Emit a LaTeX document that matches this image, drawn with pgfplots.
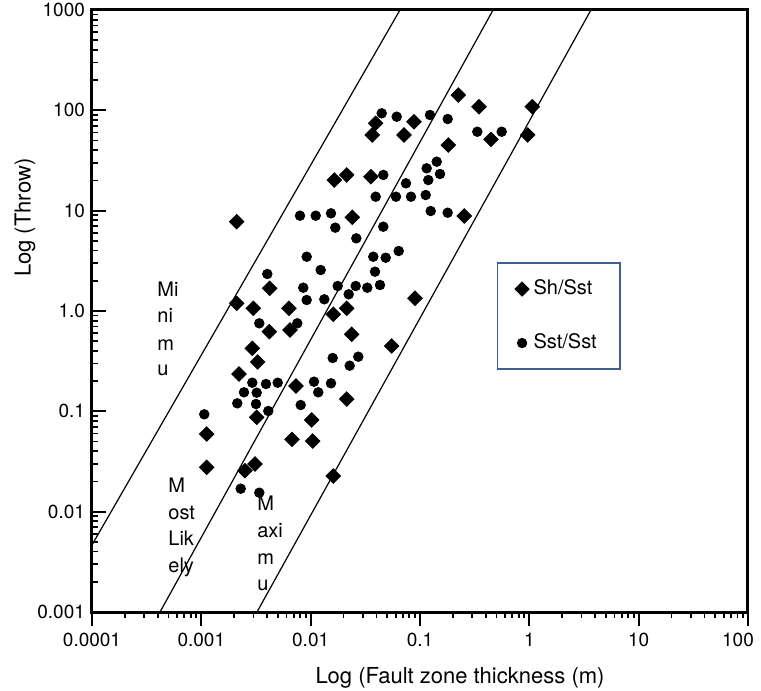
\documentclass[border=0pt]{standalone}
\usepackage{fontspec}
\setmainfont{TeX Gyre Heros}
\usepackage{pgfplots}
\pgfplotsset{compat=1.18}
\definecolor{legblue}{RGB}{60,95,140}
\begin{document}
\begin{tikzpicture}
\useasboundingbox (-46pt,-39.5pt) rectangle (334.5pt,306pt);
\begin{axis}[
  scale only axis, width=328pt, height=301pt,
  xmode=log, ymode=log,
  xmin=1e-4, xmax=100, ymin=1e-3, ymax=1000,
  xtick={1e-4,1e-3,1e-2,1e-1,1,10,100},
  xticklabels={0.0001,0.001,0.01,0.1,1,10,{100\hspace*{10pt}}},
  ytick={1e-3,1e-2,1e-1,1,10,100,1000},
  yticklabels={0.001,0.01,{0.1\hspace{5pt}},1.0,{10\hspace{9pt}},{100\hspace{2.5pt}},1000},
  minor xtick={}, minor ytick={},
  tick pos=left,
  xtick align=outside, ytick align=inside,
  major tick length=7pt,
  tick style={black, line width=0.9pt},
  axis line style={line width=1.5pt},
  /pgf/number format/assume math mode=true,
  ticklabel style={font=\fontsize{9.5}{11}\selectfont},
  xlabel={Log (Fault zone thickness (m)},
  ylabel={Log (Throw)},
  label style={font=\fontsize{11}{13}\selectfont},
  xlabel style={at={(axis description cs:0.561,-0.11)}, anchor=center},
  ylabel style={at={(axis description cs:-0.102,0.655)}, anchor=center},
  legend cell align=left,
  legend image post style={every mark/.append style={scale=0.9}},
  legend style={at={(rel axis cs:0.617,0.581)}, anchor=north west, draw=legblue, line width=0.8pt,
    font=\fontsize{10}{12}\selectfont, row sep=13.5pt, inner xsep=9pt, inner ysep=6.25pt,
    nodes={text height=7.5pt, text depth=2pt, inner ysep=2pt, inner xsep=2.5pt}},
]
\addplot[forget plot, black, line width=0.6pt] coordinates {(1e-4,0.00466) (0.0656,1000)};
\addplot[forget plot, black, line width=0.6pt] coordinates {(0.000419,0.001) (0.466,1000)};
\addplot[forget plot, black, line width=0.6pt] coordinates {(0.00323,0.001) (3.66,1000)};
\addplot[only marks, mark=square*, mark size=2.56pt, mark options={rotate=45, fill=black, draw=black}] coordinates {
(0.0393,74.3) (0.0881,77.0) (0.0366,56.8) (0.0714,56.8) (0.01645,20.2) (0.02136,22.7) (0.0356,21.8)
(0.002106,7.76) (0.02403,8.59) (0.00422,1.684) (0.0900,1.339) (0.002106,1.193) (0.002988,1.064)
(0.006334,1.064) (0.02136,1.064) (0.01611,0.927) (0.2240,142.1) (0.3465,108.7) (1.064,108.7)
(0.4461,51.4) (0.9663,56.8) (0.1815,45.1) (0.2542,8.85) (0.004184,0.622) (0.006471,0.6466)
(0.02373,0.5859) (0.002926,0.4248) (0.003277,0.3102) (0.0551,0.4479) (0.002211,0.2356)
(0.007341,0.1789) (0.02136,0.1327) (0.003209,0.0872) (0.01022,0.0820) (0.00112,0.0594)
(0.006752,0.0526) (0.01044,0.0506) (0.00112,0.02769) (0.003097,0.02986) (0.002508,0.02561)
(0.01611,0.02267)};
\addlegendentry{Sh/Sst}
\addplot[only marks, mark=*, mark size=2.4pt, mark options={fill=black, draw=black}] coordinates {
(0.04465,93.4) (0.06121,86.4) (0.04618,22.7) (0.07447,18.74) (0.03934,13.78) (0.06032,13.78)
(0.08275,13.78) (0.00799,8.91) (0.01112,8.91) (0.01535,9.41) (0.0168,6.77) (0.04618,6.92)
(0.02615,5.30) (0.009199,3.476) (0.0374,3.476) (0.04857,3.397) (0.06386,3.963) (0.01235,2.562)
(0.03877,2.465) (0.004012,2.338) (0.008561,1.707) (0.01767,1.775) (0.02582,1.775) (0.03296,1.707)
(0.04306,1.816) (0.02228,1.467) (0.009199,1.287) (0.01333,1.308) (0.1235,89.8) (0.1792,81.9)
(0.3343,61.2) (0.5589,61.2) (0.1422,30.76) (0.1151,26.44) (0.1524,23.2) (0.1191,20.2)
(0.1128,14.32) (0.1253,9.92) (0.1792,9.54) (0.00339,0.754) (0.007546,0.754) (0.0159,0.3401)
(0.02727,0.3504) (0.02275,0.285) (0.002926,0.1929) (0.003904,0.1872) (0.004994,0.1929)
(0.002456,0.1548) (0.003209,0.1533) (0.01073,0.1974) (0.01535,0.1903) (0.01174,0.1548)
(0.002133,0.1202) (0.003162,0.1183) (0.008108,0.1156) (0.004097,0.1008) (0.001064,0.0934)
(0.002292,0.01694) (0.00339,0.01545)};
\addlegendentry{Sst/Sst}
\begin{scope}[every node/.style={anchor=west, inner sep=0pt, text height=7.2pt, text depth=0pt, font=\fontsize{10}{12}\selectfont}]
\node at (rel axis cs:0.0991,0.5365) {Mi};
\node at (rel axis cs:0.0991,0.4934) {ni};
\node at (rel axis cs:0.0991,0.4468) {m};
\node at (rel axis cs:0.0991,0.4053) {u};
\node at (rel axis cs:0.1159,0.2110) {M};
\node at (rel axis cs:0.1159,0.1661) {ost};
\node at (rel axis cs:0.1159,0.1229) {Lik};
\node at (rel axis cs:0.1159,0.0781) {ely};
\node at (rel axis cs:0.2515,0.1811) {M};
\node at (rel axis cs:0.2515,0.1362) {axi};
\node at (rel axis cs:0.2515,0.0914) {m};
\node at (rel axis cs:0.2515,0.0482) {u};
\end{scope}
\end{axis}
\end{tikzpicture}
\end{document}
